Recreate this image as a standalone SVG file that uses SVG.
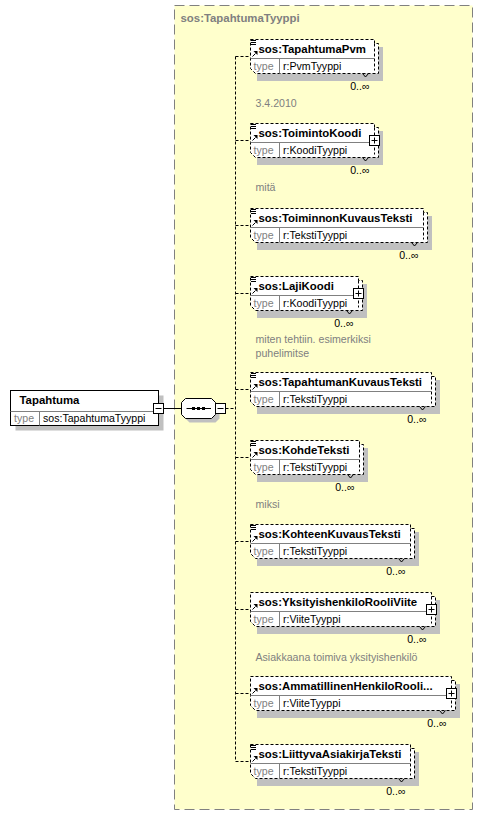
<svg xmlns="http://www.w3.org/2000/svg" width="483" height="816" viewBox="0 0 483 816">
<style>
.bg{fill:#fff}
.cont{fill:#ffffcc;stroke:#808080;stroke-width:1;stroke-dasharray:10,5}
.shadow{fill:#c0c0c0}
.box{fill:#fff;stroke:#000;stroke-width:1;stroke-dasharray:3,2}
.dl{fill:none;stroke:#000;stroke-width:1;stroke-dasharray:3,2}
.sbox{fill:#fff;stroke:#000;stroke-width:1}
.sep{stroke:#808080;stroke-width:1;fill:none}
.conn{stroke:#000;stroke-width:1;stroke-dasharray:3,2;fill:none}
.line{stroke:#000;stroke-width:1;fill:none}
.hdr{font-family:"Liberation Sans",Arial,sans-serif;font-size:11.4px;font-weight:bold;fill:#000}
.ttl{font-family:"Liberation Sans",Arial,sans-serif;font-size:11.4px;font-weight:bold;fill:#808080}
.lbl{font-family:"Liberation Sans",Arial,sans-serif;font-size:10.6px;fill:#808080}
.val{font-family:"Liberation Sans",Arial,sans-serif;font-size:10.6px;fill:#000}
.occ{font-family:"Liberation Sans",Arial,sans-serif;font-size:10.6px;fill:#000;text-anchor:end}
.ann{font-family:"Liberation Sans",Arial,sans-serif;font-size:10.6px;fill:#808080}
</style>
<rect class="bg" x="0" y="0" width="483" height="816"/>
<g id="container">
<rect class="cont" x="174.5" y="5.5" width="298" height="804"/>
<text class="ttl" x="180.5" y="21.5">sos:TapahtumaTyyppi</text>
</g>
<g id="connectors">
<path class="line" d="M163.5 408.5H181.5"/>
<path class="conn" d="M225.5 408.5H235.5"/>
<path class="conn" d="M235.5 56.5V761.5"/>
<path class="conn" d="M235.5 56.5H250.5M235.5 140.5H250.5M235.5 225.5H250.5M235.5 293.5H250.5M235.5 389.5H250.5M235.5 457.5H250.5M235.5 541.5H250.5M235.5 609.5H250.5M235.5 693.5H250.5M235.5 761.5H250.5"/>
</g>
<g id="Tapahtuma">
<rect class="shadow" x="15.5" y="395.5" width="148" height="35"/>
<rect class="sbox" x="10.5" y="390.5" width="148" height="35"/>
<path class="sep" d="M10.5 411.5H158.5M39.5 411.5V425.5"/>
<text class="hdr" x="19.5" y="404">Tapahtuma</text>
<text class="lbl" x="14" y="422">type</text>
<text class="val" x="43" y="422">sos:TapahtumaTyyppi</text>
<rect class="sbox" x="153.5" y="403.5" width="10" height="10"/>
<path class="line" d="M155.5 408.5H161.5"/>
</g>
<g id="sequence">
<polygon class="shadow" points="189.5,402.5 215.5,402.5 219.5,406.5 219.5,418.5 215.5,422.5 189.5,422.5 185.5,418.5 185.5,406.5"/>
<polygon class="sbox" points="185.5,398.5 211.5,398.5 215.5,402.5 215.5,414.5 211.5,418.5 185.5,418.5 181.5,414.5 181.5,402.5"/>
<path class="line" d="M186.5 408.5H211"/>
<rect x="192" y="407" width="3" height="3" fill="#000"/>
<rect x="197" y="407" width="3" height="3" fill="#000"/>
<rect x="202" y="407" width="3" height="3" fill="#000"/>
<rect class="sbox" x="215.5" y="403.5" width="10" height="10"/>
<path class="line" d="M217.5 408.5H223.5"/>
</g>

<g id="TapahtumaPvm">
<rect class="shadow" x="257" y="47" width="126" height="34"/>
<path class="box" d="M250.5 39.5H374.5V43.5H378.5V73.5H255.5L250.5 68.5Z"/>
<path class="dl" d="M374.5 43.5V70.5"/>
<path class="sep" d="M250.5 58.5H374.5M279.5 58.5V73.5"/>
<path class="line" d="M251 40.5h5M251 42.5h5M251 44.5h5"/>
<path class="line" d="M252.5 56.5L255.5 53.5"/><polygon points="253.5,51 257.5,51 257.5,55" fill="#000"/>
<text class="hdr" x="258.5" y="52.5">sos:TapahtumaPvm</text>
<text class="lbl" x="253.5" y="69.5">type</text>
<text class="val" x="283" y="69.5">r:PvmTyyppi</text>
<polyline class="line" points="362.5,73.5 365.5,77 368.5,73.5"/>
<text class="occ" x="369.5" y="89.5">0..∞</text>
</g>
<text class="ann" x="255.5" y="107">3.4.2010</text>

<g id="ToimintoKoodi">
<rect class="shadow" x="257" y="131" width="126" height="34"/>
<path class="box" d="M250.5 123.5H374.5V127.5H378.5V157.5H255.5L250.5 152.5Z"/>
<path class="dl" d="M374.5 127.5V154.5"/>
<path class="sep" d="M250.5 142.5H374.5M279.5 142.5V157.5"/>
<path class="line" d="M251 124.5h5M251 126.5h5M251 128.5h5"/>
<path class="line" d="M252.5 140.5L255.5 137.5"/><polygon points="253.5,135 257.5,135 257.5,139" fill="#000"/>
<text class="hdr" x="258.5" y="136.5">sos:ToimintoKoodi</text>
<text class="lbl" x="253.5" y="153.5">type</text>
<text class="val" x="283" y="153.5">r:KoodiTyyppi</text>
<rect class="sbox" x="369.5" y="135.5" width="10" height="10"/>
<path class="line" d="M371.5 140.5H377.5M374.5 137.5V143.5"/>
<polyline class="line" points="362.5,157.5 365.5,161 368.5,157.5"/>
<text class="occ" x="369.5" y="173.5">0..∞</text>
</g>
<text class="ann" x="255.5" y="191">mitä</text>

<g id="ToiminnonKuvausTeksti">
<rect class="shadow" x="257" y="216" width="175" height="34"/>
<path class="box" d="M250.5 208.5H423.5V212.5H427.5V242.5H255.5L250.5 237.5Z"/>
<path class="dl" d="M423.5 212.5V239.5"/>
<path class="sep" d="M250.5 227.5H423.5M279.5 227.5V242.5"/>
<path class="line" d="M251 209.5h5M251 211.5h5M251 213.5h5"/>
<path class="line" d="M252.5 225.5L255.5 222.5"/><polygon points="253.5,220 257.5,220 257.5,224" fill="#000"/>
<text class="hdr" x="258.5" y="221.5">sos:ToiminnonKuvausTeksti</text>
<text class="lbl" x="253.5" y="238.5">type</text>
<text class="val" x="283" y="238.5">r:TekstiTyyppi</text>
<polyline class="line" points="411.5,242.5 414.5,246 417.5,242.5"/>
<text class="occ" x="418.5" y="258.5">0..∞</text>
</g>

<g id="LajiKoodi">
<rect class="shadow" x="257" y="284" width="110" height="34"/>
<path class="box" d="M250.5 276.5H358.5V280.5H362.5V310.5H255.5L250.5 305.5Z"/>
<path class="dl" d="M358.5 280.5V307.5"/>
<path class="sep" d="M250.5 295.5H358.5M279.5 295.5V310.5"/>
<path class="line" d="M251 277.5h5M251 279.5h5M251 281.5h5"/>
<path class="line" d="M252.5 293.5L255.5 290.5"/><polygon points="253.5,288 257.5,288 257.5,292" fill="#000"/>
<text class="hdr" x="258.5" y="289.5">sos:LajiKoodi</text>
<text class="lbl" x="253.5" y="306.5">type</text>
<text class="val" x="283" y="306.5">r:KoodiTyyppi</text>
<rect class="sbox" x="353.5" y="288.5" width="10" height="10"/>
<path class="line" d="M355.5 293.5H361.5M358.5 290.5V296.5"/>
<polyline class="line" points="346.5,310.5 349.5,314 352.5,310.5"/>
<text class="occ" x="353.5" y="326.5">0..∞</text>
</g>
<text class="ann" x="255.5" y="343">miten tehtiin. esimerkiksi</text>
<text class="ann" x="255.5" y="356.5">puhelimitse</text>

<g id="TapahtumanKuvausTeksti">
<rect class="shadow" x="257" y="380" width="183" height="34"/>
<path class="box" d="M250.5 372.5H431.5V376.5H435.5V406.5H255.5L250.5 401.5Z"/>
<path class="dl" d="M431.5 376.5V403.5"/>
<path class="sep" d="M250.5 391.5H431.5M279.5 391.5V406.5"/>
<path class="line" d="M251 373.5h5M251 375.5h5M251 377.5h5"/>
<path class="line" d="M252.5 389.5L255.5 386.5"/><polygon points="253.5,384 257.5,384 257.5,388" fill="#000"/>
<text class="hdr" x="258.5" y="385.5">sos:TapahtumanKuvausTeksti</text>
<text class="lbl" x="253.5" y="402.5">type</text>
<text class="val" x="283" y="402.5">r:TekstiTyyppi</text>
<polyline class="line" points="419.5,406.5 422.5,410 425.5,406.5"/>
<text class="occ" x="426.5" y="422.5">0..∞</text>
</g>

<g id="KohdeTeksti">
<rect class="shadow" x="257" y="448" width="111" height="34"/>
<path class="box" d="M250.5 440.5H359.5V444.5H363.5V474.5H255.5L250.5 469.5Z"/>
<path class="dl" d="M359.5 444.5V471.5"/>
<path class="sep" d="M250.5 459.5H359.5M279.5 459.5V474.5"/>
<path class="line" d="M251 441.5h5M251 443.5h5M251 445.5h5"/>
<path class="line" d="M252.5 457.5L255.5 454.5"/><polygon points="253.5,452 257.5,452 257.5,456" fill="#000"/>
<text class="hdr" x="258.5" y="453.5">sos:KohdeTeksti</text>
<text class="lbl" x="253.5" y="470.5">type</text>
<text class="val" x="283" y="470.5">r:TekstiTyyppi</text>
<polyline class="line" points="347.5,474.5 350.5,478 353.5,474.5"/>
<text class="occ" x="354.5" y="490.5">0..∞</text>
</g>
<text class="ann" x="255.5" y="508">miksi</text>

<g id="KohteenKuvausTeksti">
<rect class="shadow" x="257" y="532" width="162" height="34"/>
<path class="box" d="M250.5 524.5H410.5V528.5H414.5V558.5H255.5L250.5 553.5Z"/>
<path class="dl" d="M410.5 528.5V555.5"/>
<path class="sep" d="M250.5 543.5H410.5M279.5 543.5V558.5"/>
<path class="line" d="M251 525.5h5M251 527.5h5M251 529.5h5"/>
<path class="line" d="M252.5 541.5L255.5 538.5"/><polygon points="253.5,536 257.5,536 257.5,540" fill="#000"/>
<text class="hdr" x="258.5" y="537.5">sos:KohteenKuvausTeksti</text>
<text class="lbl" x="253.5" y="554.5">type</text>
<text class="val" x="283" y="554.5">r:TekstiTyyppi</text>
<polyline class="line" points="398.5,558.5 401.5,562 404.5,558.5"/>
<text class="occ" x="405.5" y="574.5">0..∞</text>
</g>

<g id="YksityishenkiloRooliViite">
<rect class="shadow" x="257" y="600" width="183" height="34"/>
<path class="box" d="M250.5 592.5H431.5V596.5H435.5V626.5H255.5L250.5 621.5Z"/>
<path class="dl" d="M431.5 596.5V623.5"/>
<path class="sep" d="M250.5 611.5H431.5M279.5 611.5V626.5"/>
<path class="line" d="M252.5 609.5L255.5 606.5"/><polygon points="253.5,604 257.5,604 257.5,608" fill="#000"/>
<text class="hdr" x="258.5" y="605.5">sos:YksityishenkiloRooliViite</text>
<text class="lbl" x="253.5" y="622.5">type</text>
<text class="val" x="283" y="622.5">r:ViiteTyyppi</text>
<rect class="sbox" x="426.5" y="604.5" width="10" height="10"/>
<path class="line" d="M428.5 609.5H434.5M431.5 606.5V612.5"/>
<polyline class="line" points="419.5,626.5 422.5,630 425.5,626.5"/>
<text class="occ" x="426.5" y="642.5">0..∞</text>
</g>
<text class="ann" x="255.5" y="661">Asiakkaana toimiva yksityishenkilö</text>

<g id="AmmatillinenHenkiloRooli">
<rect class="shadow" x="257" y="684" width="203" height="34"/>
<path class="box" d="M250.5 676.5H451.5V680.5H455.5V710.5H255.5L250.5 705.5Z"/>
<path class="dl" d="M451.5 680.5V707.5"/>
<path class="sep" d="M250.5 695.5H451.5M279.5 695.5V710.5"/>
<path class="line" d="M252.5 693.5L255.5 690.5"/><polygon points="253.5,688 257.5,688 257.5,692" fill="#000"/>
<text class="hdr" x="258.5" y="689.5">sos:AmmatillinenHenkiloRooli...</text>
<text class="lbl" x="253.5" y="706.5">type</text>
<text class="val" x="283" y="706.5">r:ViiteTyyppi</text>
<rect class="sbox" x="446.5" y="688.5" width="10" height="10"/>
<path class="line" d="M448.5 693.5H454.5M451.5 690.5V696.5"/>
<polyline class="line" points="439.5,710.5 442.5,714 445.5,710.5"/>
<text class="occ" x="446.5" y="726.5">0..∞</text>
</g>

<g id="LiittyvaAsiakirjaTeksti">
<rect class="shadow" x="257" y="752" width="162" height="34"/>
<path class="box" d="M250.5 744.5H410.5V748.5H414.5V778.5H255.5L250.5 773.5Z"/>
<path class="dl" d="M410.5 748.5V775.5"/>
<path class="sep" d="M250.5 763.5H410.5M279.5 763.5V778.5"/>
<path class="line" d="M251 745.5h5M251 747.5h5M251 749.5h5"/>
<path class="line" d="M252.5 761.5L255.5 758.5"/><polygon points="253.5,756 257.5,756 257.5,760" fill="#000"/>
<text class="hdr" x="258.5" y="757.5">sos:LiittyvaAsiakirjaTeksti</text>
<text class="lbl" x="253.5" y="774.5">type</text>
<text class="val" x="283" y="774.5">r:TekstiTyyppi</text>
<polyline class="line" points="398.5,778.5 401.5,782 404.5,778.5"/>
<text class="occ" x="405.5" y="794.5">0..∞</text>
</g>
</svg>
